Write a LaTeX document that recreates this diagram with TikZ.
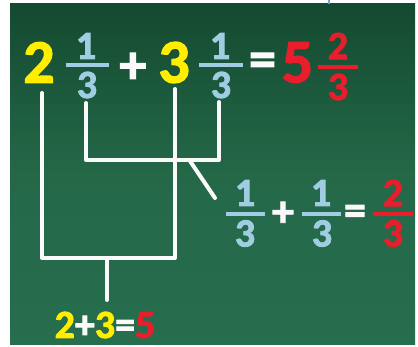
\documentclass[tikz,border=0pt]{standalone}
\usepackage{fontspec}
\setmainfont{Carlito}[BoldFeatures={FakeBold=2}]
\definecolor{chalkyellow}{RGB}{255,238,0}
\definecolor{chalkblue}{RGB}{160,205,225}
\definecolor{chalkred}{RGB}{232,30,45}
\definecolor{chalkwhite}{RGB}{250,250,250}
\definecolor{boardtop}{RGB}{20,74,48}
\definecolor{boardmid}{RGB}{36,104,72}
\definecolor{boardbot}{RGB}{38,110,78}
\definecolor{ticblue}{RGB}{110,165,220}
\tikzset{
  big/.style={inner sep=0pt, font=\bfseries\fontsize{62}{62}\selectfont},
  frac/.style={inner sep=0pt, font=\bfseries\fontsize{40}{40}\selectfont},
  sym/.style={inner sep=0pt, font=\bfseries\fontsize{54}{54}\selectfont, text=chalkwhite},
  symsmall/.style={inner sep=0pt, font=\bfseries\fontsize{44}{44}\selectfont, text=chalkwhite},
  fbar/.style={line width=4pt},
  chalk/.style={draw=chalkwhite, line width=4pt, line join=round, line cap=round},
}
\begin{document}
\begin{tikzpicture}[x=1pt,y=-1pt]
\useasboundingbox (0,0) rectangle (418,347);
\fill[white] (0,0) rectangle (418,347);
\shade[top color=boardtop, bottom color=boardbot, middle color=boardmid] (10,4) rectangle (415,345);
\draw[ticblue, line width=1.5pt] (329,0) -- (329,4);

% top equation
\node[big, text=chalkyellow] (two) at (39,62.5) {2};
\node[frac, text=chalkblue] (fan) at (86,46) {1};
\node[frac, text=chalkblue] (fad) at (87,85) {3};
\draw[fbar, chalkblue] (66,65) -- (109,65);
\node[sym] (plusA) at (133,68) {+};
\node[big, text=chalkyellow] (three) at (174,62.5) {3};
\node[frac, text=chalkblue] (fbn) at (220,46) {1};
\node[frac, text=chalkblue] (fbd) at (221,85) {3};
\draw[fbar, chalkblue] (199,65) -- (243,65);
\node[sym] (eqA) at (262.5,65) {=};
\node[big, text=chalkred] (five) at (297.5,62.5) {5};
\node[frac, text=chalkred] (fcn) at (338,46) {2};
\node[frac, text=chalkred] (fcd) at (338,87) {3};
\draw[fbar, chalkred] (318,67) -- (358,67);

% lower right equation
\node[frac, text=chalkblue] (gan) at (245,193) {1};
\node[frac, text=chalkblue] (gad) at (245,233.5) {3};
\draw[fbar, chalkblue] (226,214) -- (265,214);
\node[symsmall] (plusB) at (283,214) {+};
\node[frac, text=chalkblue] (gbn) at (321,193) {1};
\node[frac, text=chalkblue] (gbd) at (322,233.5) {3};
\draw[fbar, chalkblue] (302,214) -- (341,214);
\node[symsmall] (eqB) at (355,215) {=};
\node[frac, text=chalkred] (gcn) at (393,193) {2};
\node[frac, text=chalkred] (gcd) at (393,233.5) {3};
\draw[fbar, chalkred] (373,214) -- (413,214);

% bottom equation
\node[frac] (sum) at (105,325) {\textcolor{chalkyellow}{2}\textcolor{chalkwhite}{+}\textcolor{chalkyellow}{3}\textcolor{chalkwhite}{=}\textcolor{chalkred}{5}};

% connector coordinates
\coordinate (a1) at (42,93);
\coordinate (a2) at (42,258);
\coordinate (a3) at (175,258);
\coordinate (a4) at (175,89);
\coordinate (b1) at (86,103);
\coordinate (b2) at (86,160);
\coordinate (b3) at (219,160);
\coordinate (b4) at (219,102);
\coordinate (s1) at (107,258);
\coordinate (s2) at (107,300);
\coordinate (d1) at (190,161);
\coordinate (d2) at (215,198);

\draw[chalk] (a1) -- (a2) -- (a3) -- (a4);
\draw[chalk] (b1) -- (b2) -- (b3) -- (b4);
\draw[chalk] (s1) -- (s2);
\draw[chalk] (d1) -- (d2);
\end{tikzpicture}
\end{document}
